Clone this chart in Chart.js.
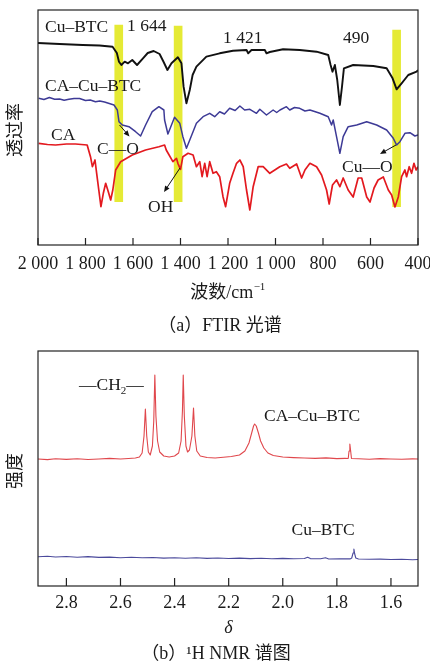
<!DOCTYPE html>
<html>
<head>
<meta charset="utf-8">
<script src="https://cdn.jsdelivr.net/npm/chart.js@4.4.1/dist/chart.umd.min.js"></script>
<style>
  body { margin: 0; background: #fff; width: 430px; height: 664px; overflow: hidden; }
  canvas { display: block; }
</style>
</head>
<body>
<canvas id="ftir" width="430" height="340"></canvas>
<canvas id="nmr" width="430" height="324"></canvas>
<script>
// ---- FTIR data (wavenumber cm-1, transmittance a.u.) ----
const ftirTicks = [2000, 1800, 1600, 1400, 1200, 1000, 800, 600, 400];
const ftirTickLabels = ['2 000', '1 800', '1 600', '1 400', '1 200', '1 000', '800', '600', '400'];

const cuBtcWn = [2000,1909,1812,1741,1686,1668,1659,1649,1635,1621,1603,1583,1558,1538,1513,1488,1471,1455,1438,1411,1396,1387,1375,1361,1349,1333,1291,1235,1179,1122,1115,1101,1045,1038,1024,968,898,827,778,768,760,750,740,729,720,712,673,588,532,507,490,469,441,406,400];
const cuBtcT = [202,201,200,199.5,198.3,192,183.3,180,183.3,181.7,185,180,186.7,192,194,191,183,175,181.7,187.7,181.7,158.3,141.7,155,170,178.3,188.3,191.7,194.3,195,191.7,195,195,191.7,193,195.7,195,193.3,190,180,173.3,180,165,140,158.3,176.7,180,179,176.7,166.7,155.7,161.7,170,173.3,175];

const caCuBtcWn = [1997,1975,1952,1930,1909,1890,1870,1848,1825,1800,1780,1758,1740,1720,1700,1680,1666,1659,1645,1617,1589,1568,1547,1519,1491,1470,1467,1453,1438,1425,1415,1403,1390,1375,1361,1333,1305,1277,1256,1235,1215,1193,1170,1150,1130,1108,1080,1066,1038,1010,995,981,954,940,920,898,876,855,813,778,764,757,743,729,715,694,658,616,574,532,504,490,476,455,434,413,400];
const caCuBtcT = [146.7,145.5,147.5,145.8,146,144.8,145.7,146.6,146.5,144.5,145,143.3,144,143,141.5,140,135,123.3,120,118.3,113.3,109,120,133.3,138.3,135,125,111,120,127.7,125,121.7,108.3,96.7,105,121.7,128.3,131.7,128.3,133.3,131,136.7,134.5,139,135,135.7,131.7,135.7,130,135,132.5,135,138.3,135,137.5,136.7,134,135,131.7,128.3,120,125,108.3,91.7,108.3,118.3,120,123.3,120,115,106.7,100,103.3,111.7,112.3,109,110];

const caWn = [1997,1960,1926,1880,1842,1793,1779,1771,1760,1753,1744,1735,1725,1715,1704,1694,1685,1673,1652,1603,1547,1491,1467,1460,1432,1417,1411,1400,1390,1368,1347,1333,1319,1309,1298,1288,1277,1263,1249,1235,1221,1210,1193,1179,1164,1150,1136,1122,1108,1094,1073,1052,1024,1003,982,954,940,911,890,876,855,827,806,785,774,760,743,729,715,694,673,652,637,616,602,585,568,546,525,511,497,483,469,455,448,437,427,417,408,400];
const caT = [101.7,100.5,100,101,101,100,88.3,78.3,85,71.7,55,38.3,51.7,61.7,53.3,45,55,75,83.3,90,95,98.3,100,95,83.3,86.7,81.7,75.7,88.3,91.7,90,78.3,83.3,68.3,81.7,68.3,83.3,71.7,73.3,68.3,48.3,38.3,61.7,71.7,81.7,85,78.3,55,35,58.3,78.3,78.3,71.7,75,78.3,81,76.7,81,67,75,81.7,78.3,70,55,41,60,65,58.3,67,55,48,67,67,48,43,57,65,68,55,50,38,48,68.3,75,68.3,78.3,71.7,81.7,75,78.3];

// highlighted bands (yellow bars)
const bandWn = [1660, 1410, 490];
const bandLow = [43.3, 43.3, 38.3];
const bandHigh = [220, 219, 215];

// ---- 1H NMR data (chemical shift, intensity a.u.) ----
const nmrTicks = [2.8, 2.6, 2.4, 2.2, 2.0, 1.8, 1.6];
const nmrTickLabels = ['2.8', '2.6', '2.4', '2.2', '2.0', '1.8', '1.6'];

const nmrRedShift = [2.905,2.87,2.84,2.80,2.76,2.72,2.68,2.64,2.60,2.57,2.545,2.53,2.52,2.513,2.508,2.503,2.497,2.49,2.482,2.477,2.473,2.469,2.463,2.455,2.44,2.42,2.40,2.385,2.376,2.371,2.368,2.364,2.358,2.352,2.345,2.336,2.330,2.325,2.318,2.305,2.28,2.25,2.22,2.19,2.16,2.14,2.125,2.115,2.108,2.104,2.098,2.09,2.082,2.07,2.055,2.035,2.00,1.96,1.92,1.88,1.84,1.80,1.77,1.758,1.755,1.752,1.749,1.746,1.72,1.68,1.64,1.60,1.56,1.52,1.50];
const nmrRedI = [127,126.4,127.2,126.6,127.3,126.5,127,127.6,127,127.5,128,129,133,150,177,150,134,131,140,165,211,170,145,134,130,129,130,133,145,175,211,170,140,134,136,150,178,150,135,130,128.5,128,128.8,129.5,131,135,143,153,160,162,160,153,145,138,133,130.5,129,128.4,128,127.6,128.1,127.4,127.6,127.5,135,142,135,127.5,127.3,126.8,127.4,127,126.7,127.1,127];

const nmrBlueShift = [2.905,2.87,2.84,2.80,2.76,2.72,2.68,2.64,2.60,2.56,2.52,2.48,2.44,2.40,2.36,2.32,2.28,2.24,2.20,2.16,2.12,2.08,2.04,2.00,1.96,1.92,1.908,1.898,1.86,1.842,1.83,1.79,1.75,1.745,1.740,1.737,1.734,1.730,1.72,1.68,1.64,1.60,1.56,1.52,1.50];
const nmrBlueI = [29.3,29.8,29,29.5,28.8,29.4,28.6,28.9,28.3,28.7,28.2,28.5,27.9,28.3,27.8,28.2,27.6,28,27.5,27.9,27.4,27.8,27.3,27.6,27.2,27.5,28.8,27.4,27.2,28.2,27,27.3,27.1,28,33,37,32,28,27,26.8,26.9,26.5,26.7,26.2,26.5];

const SERIF = '"Liberation Serif", "Times New Roman", "Noto Sans CJK SC", serif';
const CJK = '"Noto Sans CJK SC", sans-serif';
const INK = '#1a1a1a';

function zip(xs, ys) {
  return xs.map((x, i) => ({ x: x, y: ys[i] }));
}

function put(ctx, str, x, y, size, family, align, style) {
  ctx.save();
  ctx.font = (style || '') + ' ' + size + 'px ' + family;
  ctx.fillStyle = INK;
  ctx.textAlign = align || 'left';
  ctx.textBaseline = 'alphabetic';
  ctx.fillText(str, x, y);
  const w = ctx.measureText(str).width;
  ctx.restore();
  return w;
}

function width(ctx, str, size, family) {
  ctx.save();
  ctx.font = size + 'px ' + family;
  const w = ctx.measureText(str).width;
  ctx.restore();
  return w;
}

function vtitle(ctx, str, cx, cy) {
  ctx.save();
  ctx.translate(cx, cy);
  ctx.rotate(-Math.PI / 2);
  ctx.font = '18px ' + CJK;
  ctx.fillStyle = INK;
  ctx.textAlign = 'center';
  ctx.textBaseline = 'middle';
  ctx.fillText(str, 0, 0);
  ctx.restore();
}

function arrow(ctx, x1, y1, x2, y2) {
  const a = Math.atan2(y2 - y1, x2 - x1);
  ctx.save();
  ctx.strokeStyle = '#111';
  ctx.fillStyle = '#111';
  ctx.lineWidth = 1;
  ctx.beginPath();
  ctx.moveTo(x1, y1);
  ctx.lineTo(x2 - 4 * Math.cos(a), y2 - 4 * Math.sin(a));
  ctx.stroke();
  ctx.beginPath();
  ctx.moveTo(x2, y2);
  ctx.lineTo(x2 - 6 * Math.cos(a) + 2.6 * Math.sin(a), y2 - 6 * Math.sin(a) - 2.6 * Math.cos(a));
  ctx.lineTo(x2 - 6 * Math.cos(a) - 2.6 * Math.sin(a), y2 - 6 * Math.sin(a) + 2.6 * Math.cos(a));
  ctx.closePath();
  ctx.fill();
  ctx.restore();
}

// box round the plot + tick marks pointing inward
function frame(chart, tickLen) {
  const { ctx, chartArea: a } = chart;
  const xs = chart.scales.x;
  ctx.save();
  ctx.strokeStyle = '#222';
  ctx.lineWidth = 1.2;
  ctx.strokeRect(a.left, a.top, a.right - a.left, a.bottom - a.top);
  ctx.beginPath();
  xs.ticks.forEach(t => {
    const px = xs.getPixelForValue(t.value);
    ctx.moveTo(px, a.bottom);
    ctx.lineTo(px, a.bottom - tickLen);
  });
  ctx.stroke();
  ctx.restore();
}

const ftirDecor = {
  id: 'ftirDecor',
  afterDraw(chart) {
    const ctx = chart.ctx;
    frame(chart, 7);

    put(ctx, 'Cu\u2013BTC', 45, 31.5, 17.5, SERIF);
    put(ctx, '1 644', 127, 31, 17.5, SERIF);
    put(ctx, '1 421', 223, 43, 17.5, SERIF);
    put(ctx, '490', 343, 42.5, 17.5, SERIF);
    put(ctx, 'CA\u2013Cu\u2013BTC', 45, 91, 17.5, SERIF);
    put(ctx, 'CA', 51, 139.5, 17.5, SERIF);
    put(ctx, 'C\u2014O', 97, 153.5, 17.5, SERIF);
    put(ctx, 'OH', 148, 211.5, 17.5, SERIF);
    put(ctx, 'Cu\u2014O', 342, 171.5, 17.5, SERIF);

    arrow(ctx, 119.5, 125, 129.5, 136.5);
    arrow(ctx, 180, 168, 164, 192);
    arrow(ctx, 396, 145, 380, 154);

    vtitle(ctx, '透过率', 14, 130);

    // x title with superscript
    const w1 = width(ctx, '波数', 18, CJK);
    const w2 = width(ctx, '/cm', 18, SERIF);
    const w3 = width(ctx, '\u22121', 11, SERIF);
    let x0 = 227.5 - (w1 + w2 + w3) / 2;
    x0 += put(ctx, '波数', x0, 298, 18, CJK);
    x0 += put(ctx, '/cm', x0, 298, 18, SERIF);
    put(ctx, '\u22121', x0 + 0.5, 290, 11, SERIF);

    put(ctx, '（a）FTIR 光谱', 220, 331, 18, SERIF, 'center');
  }
};

const nmrDecor = {
  id: 'nmrDecor',
  afterDraw(chart) {
    const ctx = chart.ctx;
    frame(chart, 8);

    let x0 = 79;
    x0 += put(ctx, '\u2014CH', x0, 50, 17.5, SERIF);
    x0 += put(ctx, '2', x0, 53.5, 11, SERIF);
    put(ctx, '\u2014', x0, 50, 17.5, SERIF);

    put(ctx, 'CA\u2013Cu\u2013BTC', 264, 81, 17.5, SERIF);
    put(ctx, 'Cu\u2013BTC', 291.5, 194.5, 17.5, SERIF);

    vtitle(ctx, '强度', 14, 131);

    put(ctx, '\u03b4', 228.5, 293, 18, SERIF, 'center', 'italic');
    put(ctx, '（b）\u00b9H NMR 谱图', 216, 319, 18, SERIF, 'center');
  }
};

function baseOptions(xMin, xMax, ticks, labels, xHeight, topPad, tickPad) {
  return {
    responsive: false,
    animation: false,
    events: [],
    layout: { padding: { left: 0, right: 12, top: topPad, bottom: 0 } },
    plugins: { legend: { display: false }, tooltip: { enabled: false } },
    elements: { point: { radius: 0 }, line: { tension: 0, borderJoinStyle: 'round' } },
    scales: {
      x: {
        type: 'linear', min: xMin, max: xMax, reverse: true, offset: false,
        grid: { display: false, drawTicks: false },
        border: { display: false },
        afterBuildTicks: s => { s.ticks = ticks.map(v => ({ value: v })); },
        ticks: {
          autoSkip: false, maxRotation: 0, padding: tickPad, color: INK,
          font: { family: SERIF, size: 18 },
          callback: (v, i) => labels[i]
        },
        afterFit: s => { s.height = xHeight; s.paddingLeft = 0; s.paddingRight = 0; }
      },
      y: {
        min: 0, max: 235,
        grid: { display: false, drawTicks: false },
        border: { display: false },
        ticks: { display: false },
        afterFit: s => { s.width = 38; }
      }
    }
  };
}

new Chart(document.getElementById('ftir'), {
  type: 'line',
  data: {
    datasets: [
      { data: zip(cuBtcWn, cuBtcT), borderColor: '#111111', borderWidth: 1.9, order: 0 },
      { data: zip(caCuBtcWn, caCuBtcT), borderColor: '#3d3a96', borderWidth: 1.5, order: 0 },
      { data: zip(caWn, caT), borderColor: '#e3191f', borderWidth: 1.7, order: 0 },
      {
        type: 'bar',
        data: bandWn.map((w, i) => ({ x: w, y: [bandLow[i], bandHigh[i]] })),
        backgroundColor: '#e5ea35',
        borderWidth: 0,
        barThickness: 8,
        grouped: false,
        order: 1
      }
    ]
  },
  options: baseOptions(400, 2000, ftirTicks, ftirTickLabels, 95, 10, 8),
  plugins: [ftirDecor]
});

new Chart(document.getElementById('nmr'), {
  type: 'line',
  data: {
    datasets: [
      { data: zip(nmrRedShift, nmrRedI), borderColor: '#e0474c', borderWidth: 1.1 },
      { data: zip(nmrBlueShift, nmrBlueI), borderColor: '#4b4a9c', borderWidth: 1.1 }
    ]
  },
  options: baseOptions(1.5, 2.905, nmrTicks, nmrTickLabels, 78, 11, 6),
  plugins: [nmrDecor]
});
</script>
</body>
</html>
